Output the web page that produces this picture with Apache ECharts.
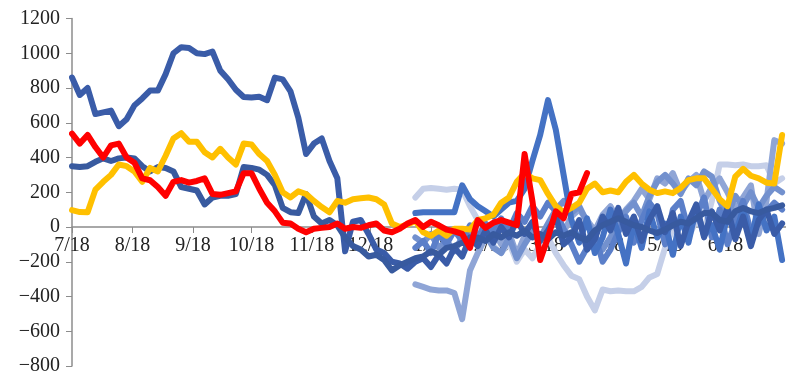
<!DOCTYPE html>
<html>
<head>
<meta charset="utf-8">
<title>spread</title>
<script src="https://cdn.jsdelivr.net/npm/echarts@6/dist/echarts.min.js"></script>
<style>
  html, body { margin: 0; padding: 0; background: #fff; }
  #main { width: 786px; height: 375px; }
</style>
</head>
<body>
<div id="main"></div>
<script>
// x = days counted from 1 July, month ticks at the first day of each month
const monthDays = [0, 31, 62, 92, 123, 153, 184, 215, 243, 274, 304, 335]
const monthLabels = ['7/18', '8/18', '9/18', '10/18', '11/18', '12/18', '1/18', '2/18', '3/18', '4/18', '5/18', '6/18']

const step = 4 // every series is sampled every 4 days

// full season, dark blue (starts near 860)
const blueA = [860, 760, 800, 650, 660, 670, 580, 620, 700, 740, 785, 785, 880, 1000, 1035, 1030, 1000, 995, 1010, 900,
  850, 790, 748, 745, 750, 730, 860, 850, 780, 630, 420, 480, 510, 380, 280, -140, 30, 40, -40, -130,
  -150, -200, -210, -240, -200, -180, -230, -160, -210, -120, -170, -60, -110, -20, -90, 0, -60, 40, -40, 30,
  -80, -20, 60, -100, -60, 40, -130, -70, 60, -20, 110, -40, 60, -80, 40, 120, -30, 80, -110, 30,
  130, -60, 90, -20, 110, -70, 60, -110, 40, 100, -40, 20]
// full season, dark blue (starts near 350)
const blueB = [350, 345, 350, 375, 395, 380, 395, 400, 395, 350, 320, 345, 340, 320, 230, 220, 210, 130, 170, 180,
  180, 190, 345, 340, 330, 300, 240, 110, 85, 80, 190, 60, 20, 40, 10, -60, -110, -130, -170, -160,
  -190, -250, -220, -200, -180, -170, -140, -160, -120, -110, -90, -100, -60, -80, -40, -60, -30, -50, -20, -60,
  -40, -70, -30, -50, -30, -60, -75, -20, 10, 30, 50, 30, 10, 0, -20, -35, -15, 10, 30, 20,
  50, 80, 80, 40, 30, 90, 110, 90, 80, 100, 110, 125]
// full season, yellow
const yellow = [97, 86, 85, 215, 260, 300, 360, 350, 320, 260, 340, 320, 410, 510, 540, 490, 490, 430, 400, 450,
  400, 360, 480, 475, 420, 380, 300, 200, 170, 205, 190, 150, 115, 85, 150, 140, 160, 165, 170, 160,
  130, 20, 0, 15, 35, -30, -50, -20, -50, -10, -10, -15, 40, 50, 70, 140, 170, 260, 310, 280,
  270, 190, 120, 85, 110, 140, 220, 250, 200, 210, 200, 260, 300, 250, 215, 195, 205, 195, 225, 270,
  280, 280, 220, 160, 120, 290, 335, 295, 280, 255, 250, 530]
// current season, red (ends mid March)
const red = [537, 480, 530, 460, 400, 470, 480, 400, 370, 280, 269, 230, 180, 260, 270, 255, 265, 280, 190, 185,
  195, 205, 310, 310, 220, 140, 90, 25, 20, -10, -30, -10, -5, 0, 20, -10, 0, -5, 10, 20,
  -20, -30, -10, 20, 40, 0, 30, 10, -15, -25, -40, -120, 40, -5, 25, 40, 25, 10, 420, 150,
  -190, -60, 90, 50, 190, 200, 310]

// older seasons, only from December on
const lateStart = 176
const light1 = [170, 220, 225, 220, 215, 220, 215, 120, 40, -60, -110, -150, -90, -200, -130, -180, -100, -60, -150, -220,
  -280, -300, -400, -480, -360, -370, -365, -370, -370, -345, -290, -270, -120, -10, 40, -60, 40, -20, 150, 360,
  360, 355, 360, 350, 350, 355, 250, 280]
const light2 = [-330, -345, -360, -365, -365, -380, -530, -250, -150, -60, -20, -100, -30, -160, -50, 20, -80, 0, 50, -30,
  60, 100, 40, -20, 70, 120, 40, 100, 150, 220, 160, 280, 250, 310, 200, 260, 300, 150, 230, 280,
  200, 100, 170, 240, -40, 150, 500, 480]
const light3 = [-60, -90, -40, -120, -80, -140, -60, -20, -90, -40, -120, -150, -60, -180, -100, -30, -60, 20, 100, 150,
  80, 120, 30, -50, -130, -60, 40, 90, 140, 60, 180, 260, 300, 250, 190, 280, 240, 320, 290, 150,
  60, 180, 120, 200, 110, 180, 230, 200]
const mid1 = [80, 85, 85, 85, 85, 85, 240, 160, 120, 90, 60, 100, 140, 150, 220, 380, 530, 730, 560, 300,
  40, -90, 50, -150, -60, 100, -40, -210, 30, -120, 90, -60, 20, -160, 60, -90, 110, -50, 10, -130,
  70, -40, 100, -80, 130, -20, 60, -190]
const mid2 = [-120, -80, -150, -40, -100, -20, -80, 10, -60, 20, -30, 50, -20, 80, 30, 120, 60, 140, 90, -10,
  -100, -200, -120, -40, -200, -130, -30, 60, -90, 40, 140, 80, -100, 100, 150, -20, 60, 170, -60, 100,
  -100, 30, 150, -30, 20, 90, 140, 100]

function toPts(start, vals) {
  return vals.map(function (v, i) { return [start + i * step, v] })
}

function line(name, color, start, vals) {
  return {
    name: name,
    type: 'line',
    data: toPts(start, vals),
    showSymbol: false,
    symbol: 'none',
    lineStyle: { color: color, width: 6, join: 'round', cap: 'round' },
    itemStyle: { color: color }
  }
}

const chart = echarts.init(document.getElementById('main'))
chart.setOption({
  animation: false,
  grid: { left: 72, right: 0, top: 18.5, bottom: 9, outerBoundsMode: 'none' },
  xAxis: {
    type: 'value',
    min: 0,
    max: 366,
    offset: -139, // x axis sits on the zero line
    splitLine: { show: false },
    axisLine: { onZero: false, lineStyle: { color: '#8c8c8c', width: 1.5 } },
    axisTick: { customValues: monthDays, length: 6, lineStyle: { color: '#8c8c8c' } },
    axisLabel: {
      customValues: monthDays,
      margin: 9,
      color: '#222',
      fontFamily: 'Liberation Serif',
      fontSize: 20,
      formatter: function (v) {
        const i = monthDays.indexOf(v)
        return i >= 0 ? monthLabels[i] : ''
      }
    }
  },
  yAxis: {
    type: 'value',
    min: -800,
    max: 1200,
    interval: 200,
    splitLine: { show: false },
    axisLine: { show: true, lineStyle: { color: '#8c8c8c', width: 1.5 } },
    axisTick: { show: true, length: 6, lineStyle: { color: '#8c8c8c' } },
    axisLabel: {
      margin: 12,
      color: '#222',
      fontFamily: 'Liberation Serif',
      fontSize: 20,
      formatter: function (v) { return String(v).replace('-', '\u2212') }
    }
  },
  series: [
    line('s1', '#c5cfe8', lateStart, light1),
    line('s2', '#8fa5d6', lateStart, light2),
    line('s3', '#7391ce', lateStart, light3),
    line('s5', '#5b7fc9', lateStart, mid2),
    line('s4', '#4472c4', lateStart, mid1),
    line('a', '#3a5ca8', 0, blueA),
    line('b', '#385a9f', 0, blueB),
    line('yellow', '#ffc000', 0, yellow),
    line('red', '#ff0000', 0, red)
  ]
})
</script>
</body>
</html>
